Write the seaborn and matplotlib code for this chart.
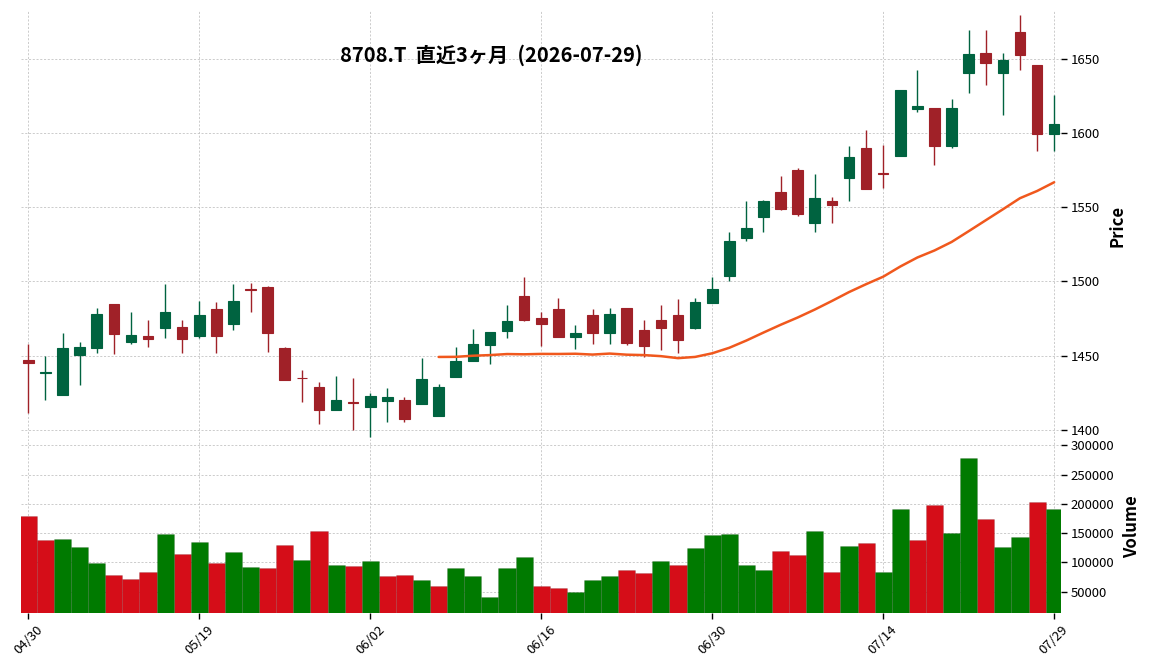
import numpy as np
import pandas as pd
import matplotlib
matplotlib.use("Agg")
import matplotlib.pyplot as plt
import seaborn as sns

title_text = "8708.T  直近3ヶ月  (2026-07-29)"

dates = ["04/30", "05/01", "05/07", "05/08", "05/11", "05/12", "05/13", "05/14", "05/15", "05/18",
         "05/19", "05/20", "05/21", "05/22", "05/25", "05/26", "05/27", "05/28", "05/29", "06/01",
         "06/02", "06/03", "06/04", "06/05", "06/08", "06/09", "06/10", "06/11", "06/12", "06/15",
         "06/16", "06/17", "06/18", "06/19", "06/22", "06/23", "06/24", "06/25", "06/26", "06/29",
         "06/30", "07/01", "07/02", "07/03", "07/06", "07/07", "07/08", "07/09", "07/10", "07/13",
         "07/14", "07/15", "07/16", "07/17", "07/21", "07/22", "07/23", "07/24", "07/27", "07/28",
         "07/29"]

opens = [1447.0, 1438.0, 1423.6, 1450.6, 1455.4, 1484.8, 1459.4, 1463.2, 1468.9, 1469.3,
         1463.5, 1481.5, 1471.6, 1494.7, 1496.3, 1455.1, 1435.0, 1428.8, 1413.5, 1418.5,
         1415.1, 1419.6, 1420.0, 1417.6, 1409.2, 1435.8, 1446.6, 1457.4, 1466.8, 1490.5,
         1475.4, 1481.5, 1462.8, 1477.5, 1465.5, 1482.1, 1467.3, 1474.0, 1477.6, 1468.9,
         1485.7, 1503.7, 1529.4, 1543.8, 1560.4, 1575.3, 1539.7, 1554.4, 1570.1, 1590.4,
         1573.3, 1585.0, 1616.7, 1617.1, 1591.7, 1640.5, 1654.3, 1640.5, 1668.2, 1646.0,
         1599.8]
highs = [1457.6, 1449.7, 1465.0, 1459.0, 1481.9, 1485.0, 1479.2, 1473.8, 1498.1, 1473.8,
         1486.6, 1486.0, 1498.1, 1498.8, 1496.6, 1455.8, 1440.3, 1432.0, 1436.0, 1434.7,
         1424.5, 1427.9, 1422.3, 1448.2, 1430.8, 1455.6, 1467.7, 1466.1, 1484.2, 1503.1,
         1479.2, 1488.7, 1470.9, 1481.1, 1481.9, 1482.3, 1473.8, 1484.2, 1488.2, 1489.1,
         1503.1, 1533.2, 1554.1, 1554.8, 1571.2, 1576.4, 1572.6, 1556.8, 1591.5, 1602.3,
         1592.0, 1629.5, 1642.6, 1617.3, 1623.0, 1669.6, 1669.6, 1654.1, 1680.2, 1646.2,
         1626.1]
lows = [1411.0, 1420.0, 1423.3, 1429.9, 1451.5, 1450.9, 1457.6, 1455.6, 1461.7, 1451.5,
        1461.7, 1451.5, 1467.1, 1479.2, 1452.7, 1433.5, 1418.5, 1403.6, 1413.3, 1399.8,
        1394.8, 1405.2, 1405.2, 1417.4, 1409.0, 1435.5, 1446.3, 1444.1, 1461.7, 1473.4,
        1456.5, 1462.5, 1454.7, 1457.6, 1457.6, 1457.2, 1448.8, 1453.8, 1452.0, 1467.7,
        1485.5, 1500.4, 1527.1, 1533.2, 1548.4, 1544.0, 1533.2, 1539.5, 1554.1, 1562.3,
        1562.9, 1584.8, 1614.2, 1578.4, 1589.9, 1627.0, 1632.4, 1612.4, 1642.6, 1587.9,
        1587.9]
closes = [1444.8, 1438.9, 1455.1, 1455.8, 1478.1, 1464.8, 1463.9, 1461.4, 1479.4, 1461.4,
          1477.4, 1463.5, 1486.9, 1494.3, 1465.5, 1433.8, 1434.5, 1413.5, 1420.0, 1417.8,
          1422.7, 1422.1, 1407.4, 1434.2, 1428.8, 1446.4, 1457.8, 1465.9, 1473.4, 1473.8,
          1471.5, 1462.8, 1465.2, 1465.5, 1478.3, 1458.7, 1456.7, 1468.9, 1460.5, 1486.2,
          1495.0, 1527.6, 1536.1, 1554.4, 1548.7, 1545.8, 1556.4, 1551.9, 1584.1, 1562.5,
          1572.8, 1629.3, 1618.5, 1591.7, 1617.1, 1653.6, 1647.7, 1649.6, 1653.2, 1599.8,
          1606.1]
volumes = [179300, 138300, 140000, 126300, 99000, 78500, 71600, 83600, 148500, 114300,
           134800, 99000, 117800, 92100, 90400, 129700, 104100, 153600, 95600, 93800,
           102400, 76800, 78500, 69900, 59700, 90400, 76800, 40900, 90400, 109200,
           59700, 56300, 49400, 69900, 76800, 87000, 81900, 102400, 95600, 124600,
           146800, 148500, 95600, 87000, 119500, 112600, 153600, 83600, 128000, 133100,
           83600, 191200, 138300, 198100, 150200, 278400, 174100, 126300, 143400, 203200,
           191200]

ma_window = 25

UP_CANDLE = "#006340"
DOWN_CANDLE = "#a02128"
UP_VOL = "#007a00"
DOWN_VOL = "#d50d18"
MA_COLOR = "#f0581d"

df = pd.DataFrame({"date": dates, "open": opens, "high": highs, "low": lows,
                   "close": closes, "volume": volumes})
df["idx"] = np.arange(len(df))
df["ma"] = df["close"].rolling(ma_window).mean()
# volume colour follows close vs previous close
prev_close = df["close"].shift(1).fillna(df["open"])
df["vol_dir"] = np.where(df["close"] >= prev_close, "up", "down")

sns.set_theme(style="whitegrid")
plt.rcParams["font.family"] = ["Noto Sans CJK JP", "DejaVu Sans"]
plt.rcParams["text.color"] = "black"
plt.rcParams["axes.labelcolor"] = "black"

fig = plt.figure(figsize=(11.52, 6.70), dpi=100)
ax_p = fig.add_axes([0.0182, 0.3418, 0.9028, 0.6418])
ax_v = fig.add_axes([0.0182, 0.0851, 0.9028, 0.2567])

# candles
candle_up = df["close"] >= df["open"]
body_colors = np.where(candle_up, UP_CANDLE, DOWN_CANDLE)
ax_p.vlines(df["idx"], df["low"], df["high"], colors=body_colors, linewidth=1.0, zorder=2)
body_bottom = df[["open", "close"]].min(axis=1)
body_height = (df["open"] - df["close"]).abs()
ax_p.bar(df["idx"], body_height, bottom=body_bottom, width=0.62, color=body_colors,
         edgecolor=body_colors, linewidth=0.8, zorder=3)

# moving average
sns.lineplot(data=df, x="idx", y="ma", ax=ax_p, color=MA_COLOR, linewidth=1.8, zorder=4)

# volume
sns.barplot(data=df, x="idx", y="volume", hue="vol_dir",
            palette={"up": UP_VOL, "down": DOWN_VOL}, saturation=1, width=1.0,
            edgecolor=(0, 0, 0, 0.12), linewidth=0.6, legend=False, ax=ax_v)

tick_idx = df["idx"].tolist()[::10]
tick_lab = dates[::10]
for ax in (ax_p, ax_v):
    ax.set_xlim(-0.43, 60.4)
    ax.set_xticks(tick_idx)
    for s in ax.spines.values():
        s.set_visible(False)
    ax.set_facecolor("white")
    ax.grid(True, linestyle=(0, (2.5, 2)), color="#c4c4c4", linewidth=0.6)
    ax.set_axisbelow(True)
    ax.yaxis.tick_right()
    ax.yaxis.set_label_position("right")
    ax.tick_params(axis="y", right=True, left=False, length=4, width=1, color="black",
                   labelsize=9.5, labelcolor="black", pad=3)
    ax.set_xlabel("")

ax_p.set_ylim(1392.3, 1682.6)
ax_p.set_yticks([1400, 1450, 1500, 1550, 1600, 1650])
ax_p.tick_params(axis="x", bottom=False, labelbottom=False)
ax_p.set_ylabel("Price", fontsize=12, fontweight="bold", labelpad=6)

ax_v.set_ylim(13500, 307400)
ax_v.set_yticks([50000, 100000, 150000, 200000, 250000, 300000])
ax_v.set_xticklabels(tick_lab, rotation=45, ha="center")
ax_v.tick_params(axis="x", bottom=True, length=4, width=1, color="black",
                 labelsize=9.5, labelcolor="black")
ax_v.set_ylabel("Volume", fontsize=12, fontweight="bold", labelpad=6)

fig.text(491 / 1152, 1 - 55 / 670, title_text, ha="center", va="center",
         fontsize=14.5, fontweight="bold", color="black")

fig.savefig("out.png", dpi=100, facecolor="white")
